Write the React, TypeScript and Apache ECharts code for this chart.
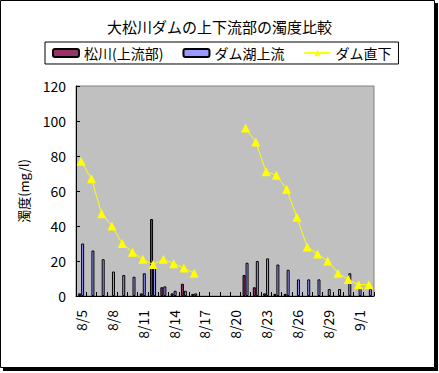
import React, { useEffect, useRef } from "react";
import * as echarts from "echarts";

const categories = [
  "8/5", "8/6", "8/7", "8/8", "8/9", "8/10", "8/11", "8/12", "8/13", "8/14",
  "8/15", "8/16", "8/17", "8/18", "8/19", "8/20", "8/21", "8/22", "8/23", "8/24",
  "8/25", "8/26", "8/27", "8/28", "8/29", "8/30", "8/31", "9/1", "9/2",
];

const matsukawa = [
  1.5, null, null, null, null, null, 1.5, 44, 5, 1.5,
  7, 1.2, null, null, null, null, 12, 5, 1.5, 1.2,
  1.2, null, null, null, null, null, null, null, null,
];

const damLakeUpstream = [
  30, 26, 21, 14, 12, 11, 13, 17, 5.5, 3,
  3, 1.5, null, null, null, null, 19, 20, 21.5, 18,
  15, 9.5, 9.5, 9.5, 4, 4, 13, 6, 4,
];

const belowDam = [
  77, 67, 47, 40, 30, 25, 21, 18, 21, 18.5,
  16, 13, null, null, null, null, 96, 88, 71, 69,
  61, 45, 28, 24, 20, 13, 9.5, 6.5, 6.5,
];

const yTicks = { min: 0, max: 120, interval: 20 };

const FONT = "'Noto Sans CJK JP', 'Noto Sans', sans-serif";

export default function App() {
  const ref = useRef<HTMLDivElement>(null);
  useEffect(() => {
    if (!ref.current) return;
    const chart = echarts.init(ref.current, undefined, { renderer: "svg" });
    chart.setOption({
      animation: false,
      backgroundColor: "#ffffff",
      textStyle: { fontFamily: FONT, color: "#000" },
      title: {
        text: "大松川ダムの上下流部の濁度比較",
        left: "center",
        top: 14,
        textStyle: { fontSize: 15, fontWeight: "normal", color: "#000", fontFamily: FONT },
      },
      legend: {
        left: 45,
        top: 42,
        padding: [4, 7, 4, 7],
        borderColor: "#000",
        borderWidth: 1,
        itemWidth: 26,
        itemHeight: 8,
        itemGap: 19,
        textStyle: { fontSize: 14, color: "#000", fontFamily: FONT },
        data: ["松川(上流部)", "ダム湖上流", "ダム直下"],
      },
      grid: {
        left: 76,
        top: 86,
        right: 65,
        bottom: 77,
        show: true,
        backgroundColor: "#c0c0c0",
        borderColor: "#808080",
        borderWidth: 1,
      },
      xAxis: {
        type: "category",
        data: categories,
        boundaryGap: true,
        axisLine: { lineStyle: { color: "#000", width: 1 } },
        axisTick: { show: true, inside: true, length: 4, interval: 0, lineStyle: { color: "#000" } },
        axisLabel: {
          interval: 2,
          rotate: 90,
          margin: 14,
          fontSize: 14,
          color: "#000",
          fontFamily: FONT,
        },
      },
      yAxis: {
        type: "value",
        min: yTicks.min,
        max: yTicks.max,
        interval: yTicks.interval,
        name: "濁度(mg/l)",
        nameLocation: "middle",
        nameGap: 46,
        nameRotate: 90,
        nameTextStyle: { fontSize: 13, color: "#000", fontFamily: FONT },
        splitLine: { show: false },
        axisLine: { show: true, lineStyle: { color: "#000", width: 1 } },
        axisTick: { show: true, inside: true, length: 4, lineStyle: { color: "#000" } },
        axisLabel: { fontSize: 14, color: "#000", margin: 10, fontFamily: FONT },
      },
      series: [
        {
          name: "松川(上流部)",
          type: "bar",
          data: matsukawa,
          barWidth: 3,
          barGap: "0%",
          itemStyle: { color: "#993366", borderColor: "#000", borderWidth: 1 },
        },
        {
          name: "ダム湖上流",
          type: "bar",
          data: damLakeUpstream,
          barWidth: 3,
          barGap: "0%",
          itemStyle: { color: "#9999ff", borderColor: "#000", borderWidth: 1 },
        },
        {
          name: "ダム直下",
          type: "line",
          data: belowDam,
          connectNulls: false,
          showSymbol: true,
          showAllSymbol: true,
          symbol: "triangle",
          symbolSize: 9,
          lineStyle: { color: "#ffff00", width: 1 },
          itemStyle: { color: "#ffff00" },
        },
      ],
      graphic: [
        { type: "rect", shape: { x: 0.5, y: 0.5, width: 434, height: 367 }, style: { fill: "none", stroke: "#000", lineWidth: 1 } },
        { type: "rect", shape: { x: 435, y: 3, width: 3, height: 368 }, style: { fill: "#000" } },
        { type: "rect", shape: { x: 3, y: 368, width: 435, height: 3 }, style: { fill: "#000" } },
      ],
    });
    return () => chart.dispose();
  }, []);
  return (
    <div
      ref={ref}
      style={{ position: "fixed", left: 0, top: 0, width: 439, height: 373 }}
    />
  );
}
